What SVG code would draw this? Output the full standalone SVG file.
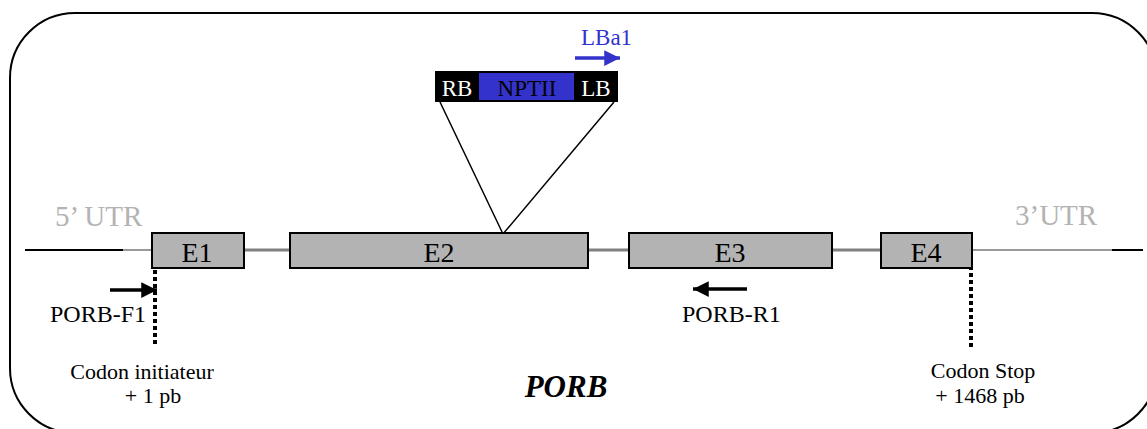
<svg xmlns="http://www.w3.org/2000/svg" width="1147" height="429" viewBox="0 0 1147 429">
<defs>
<style>
text{font-family:"Liberation Serif","Times New Roman",serif;}
.ex{fill:#b3b3b3;stroke:#000;stroke-width:2;}
.exl{font-size:28px;fill:#000;text-anchor:middle;}
.utr{font-size:29px;fill:#b3b3b3;}
.lbl{font-size:22px;fill:#000;}
.pr{font-size:24px;fill:#000;}
.ins{font-size:23px;text-anchor:middle;}
.intron{stroke:#808080;stroke-width:3;}
.dot{stroke:#000;stroke-width:4;stroke-dasharray:4 3;fill:none;}
</style>
<marker id="ah" markerWidth="4.5" markerHeight="4.5" refX="4.5" refY="2.25" orient="auto" markerUnits="strokeWidth">
<path d="M0,0 L4.5,2.25 L0,4.5 Z" fill="context-stroke"/>
</marker>
</defs>
<rect x="10" y="13" width="1147" height="420" rx="65" ry="65" fill="none" stroke="#000" stroke-width="2"/>
<g id="connectors">
<line x1="25" y1="250" x2="123" y2="250" stroke="#000" stroke-width="2"/>
<line x1="123" y1="250" x2="152" y2="250" stroke="#999" stroke-width="2"/>
<line class="intron" x1="244" y1="250" x2="290" y2="250"/>
<line class="intron" x1="588" y1="250" x2="629" y2="250"/>
<line class="intron" x1="832" y1="250" x2="881" y2="250"/>
<line x1="972" y1="250" x2="1112" y2="250" stroke="#999" stroke-width="2"/>
<line x1="1112" y1="250" x2="1143" y2="250" stroke="#000" stroke-width="2"/>
<polyline points="440,102 503,234 614,102" fill="none" stroke="#000" stroke-width="1.5"/>
<line class="dot" x1="155" y1="270" x2="155" y2="346"/>
<line class="dot" x1="971" y1="252" x2="971" y2="348"/>
<line x1="110" y1="290" x2="157" y2="290" stroke="#000" stroke-width="3.5" marker-end="url(#ah)"/>
<line x1="747" y1="289" x2="693" y2="289" stroke="#000" stroke-width="3.5" marker-end="url(#ah)"/>
<line x1="575" y1="58" x2="620" y2="58" stroke="#3333cc" stroke-width="3.5" marker-end="url(#ah)"/>
</g>
<g id="E1"><rect class="ex" x="152" y="233" width="92" height="35"/><text class="exl" x="197" y="262">E1</text></g>
<g id="E2"><rect class="ex" x="290" y="233" width="298" height="35"/><text class="exl" x="439" y="262">E2</text></g>
<g id="E3"><rect class="ex" x="629" y="233" width="203" height="35"/><text class="exl" x="730" y="262">E3</text></g>
<g id="E4"><rect class="ex" x="881" y="233" width="91" height="35"/><text class="exl" x="926" y="262">E4</text></g>
<g id="insert">
<rect x="435" y="71" width="183" height="31" fill="#000"/>
<rect x="479" y="73" width="95" height="27" fill="#3333cc"/>
<text class="ins" x="457" y="96" fill="#fff">RB</text>
<text class="ins" x="527" y="96" fill="#000">NPTII</text>
<text class="ins" x="596" y="96" fill="#fff">LB</text>
</g>
<g id="LBa1"><text x="581" y="45" font-size="23" fill="#3333cc">LBa1</text></g>
<g id="utr5"><text class="utr" x="55" y="226">5’ UTR</text></g>
<g id="utr3"><text class="utr" x="1015" y="225">3’UTR</text></g>
<g id="PORB-F1"><text class="pr" x="50" y="322">PORB-F1</text></g>
<g id="PORB-R1"><text class="pr" x="682" y="322">PORB-R1</text></g>
<g id="start"><text class="lbl" x="142" y="379" text-anchor="middle">Codon initiateur</text><text class="lbl" x="153" y="403" text-anchor="middle">+ 1 pb</text></g>
<g id="stop"><text class="lbl" x="983" y="378" text-anchor="middle">Codon Stop</text><text class="lbl" x="980" y="403" text-anchor="middle">+ 1468 pb</text></g>
<g id="title"><text x="566" y="397" font-size="31" font-weight="bold" font-style="italic" text-anchor="middle">PORB</text></g>
</svg>
